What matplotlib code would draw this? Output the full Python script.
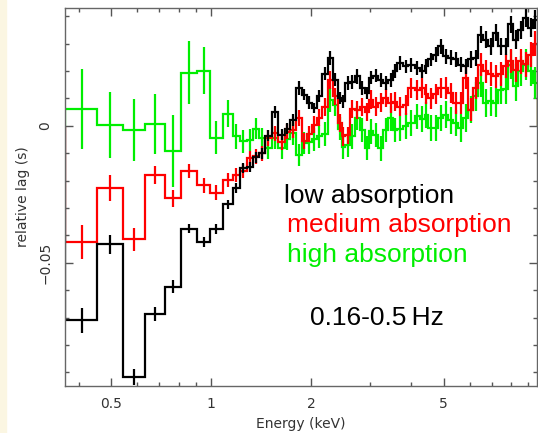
import numpy as np
import matplotlib.pyplot as plt
from matplotlib.patches import Rectangle

# bin edges in keV (shared by all three spectra)
edges = [0.364, 0.454, 0.543, 0.632, 0.728, 0.813, 0.908, 0.993, 1.083, 1.164,
         1.222, 1.280, 1.340, 1.394, 1.453, 1.522, 1.593, 1.668, 1.727, 1.796,
         1.873, 1.939, 2.006, 2.077, 2.154, 2.241, 2.329, 2.401, 2.469, 2.534,
         2.615, 2.706, 2.802, 2.900, 2.981, 3.071, 3.179, 3.291, 3.407, 3.527,
         3.626, 3.779, 3.912, 4.098, 4.242, 4.391, 4.493, 4.651, 4.815, 4.984,
         5.160, 5.341, 5.529, 5.724, 5.925, 6.134, 6.350, 6.573, 6.804, 7.044,
         7.292, 7.548, 7.814, 8.089, 8.374, 8.668, 8.973, 9.289, 9.600]

# lag (s) per bin
lag_low = [-0.0710, -0.0433, -0.0917, -0.0688, -0.0588, -0.0376, -0.0425, -0.0377, -0.0287, -0.0228,
           -0.0155, -0.0150, -0.0115, -0.0100, -0.0037, 0.0050, -0.0033, -0.0010, 0.0020, 0.0138,
           0.0113, 0.0085, 0.0065, 0.0110, 0.0190, 0.0248, 0.0168, 0.0101, 0.0089, 0.0156,
           0.0160, 0.0180, 0.0138, 0.0120, 0.0175, 0.0183, 0.0168, 0.0156, 0.0168, 0.0199,
           0.0230, 0.0217, 0.0223, 0.0211, 0.0199, 0.0217, 0.0242, 0.0260, 0.0290, 0.0254,
           0.0248, 0.0242, 0.0223, 0.0217, 0.0242, 0.0248, 0.0333, 0.0315, 0.0290, 0.0340,
           0.0290, 0.0290, 0.0370, 0.0315, 0.0351, 0.0394, 0.0358, 0.0388]
lag_med = [-0.0425, -0.0227, -0.0415, -0.0179, -0.0265, -0.0165, -0.0218, -0.0245, -0.0198, -0.0180,
           -0.0165, -0.0118, -0.0112, -0.0100, -0.0045, -0.0027, -0.0060, -0.0021, -0.0015, 0.0028,
           -0.0057, -0.0030, 0.0004, 0.0030, 0.0068, 0.0168, 0.0107, 0.0010, -0.0039, -0.0035,
           0.0061, 0.0058, 0.0070, 0.0050, 0.0095, 0.0070, 0.0085, 0.0101, 0.0083, 0.0088,
           0.0070, 0.0075, 0.0138, 0.0130, 0.0138, 0.0115, 0.0101, 0.0115, 0.0138, 0.0138,
           0.0120, 0.0083, 0.0083, 0.0175, 0.0059, 0.0138, 0.0223, 0.0199, 0.0190, 0.0180,
           0.0190, 0.0217, 0.0235, 0.0205, 0.0235, 0.0225, 0.0260, 0.0300]
lag_high = [0.0061, 0.0003, -0.0016, 0.0006, -0.0092, 0.0193, 0.0201, -0.0044, 0.0044, -0.0039,
            -0.0057, -0.0051, -0.0010, -0.0045, -0.0082, -0.0045, -0.0082, -0.0050, -0.0027, -0.0106,
            -0.0063, -0.0060, -0.0050, -0.0039, -0.0030, 0.0095, 0.0077, -0.0010, -0.0076, -0.0070,
            -0.0039, 0.0028, -0.0015, -0.0082, -0.0020, -0.0033, -0.0082, -0.0015, 0.0028, -0.0015,
            -0.0010, 0.0000, 0.0010, 0.0034, 0.0025, 0.0040, -0.0008, -0.0008, 0.0028, 0.0040,
            0.0020, 0.0010, -0.0008, 0.0028, 0.0059, 0.0107, 0.0156, 0.0083, 0.0090, 0.0085,
            0.0132, 0.0135, 0.0223, 0.0144, 0.0199, 0.0223, 0.0200, 0.0156]

# 1-sigma errors
err_low = [0.0045, 0.0034, 0.0030, 0.0026, 0.0024, 0.0016, 0.0018, 0.0018, 0.0016, 0.0018,
           0.0018, 0.0018, 0.0020, 0.0020, 0.0020, 0.0022, 0.0020, 0.0020, 0.0022, 0.0024,
           0.0020, 0.0022, 0.0020, 0.0022, 0.0024, 0.0025, 0.0024, 0.0022, 0.0024, 0.0024,
           0.0024, 0.0026, 0.0024, 0.0022, 0.0024, 0.0024, 0.0025, 0.0024, 0.0025, 0.0026,
           0.0025, 0.0024, 0.0026, 0.0025, 0.0026, 0.0027, 0.0025, 0.0027, 0.0028, 0.0027,
           0.0027, 0.0028, 0.0028, 0.0028, 0.0030, 0.0028, 0.0030, 0.0030, 0.0031, 0.0031,
           0.0030, 0.0032, 0.0032, 0.0033, 0.0033, 0.0034, 0.0034, 0.0035]
err_med = [0.0063, 0.0049, 0.0041, 0.0032, 0.0030, 0.0026, 0.0027, 0.0027, 0.0025, 0.0025,
           0.0026, 0.0026, 0.0027, 0.0027, 0.0028, 0.0028, 0.0029, 0.0028, 0.0030, 0.0030,
           0.0029, 0.0030, 0.0031, 0.0030, 0.0032, 0.0033, 0.0031, 0.0032, 0.0033, 0.0032,
           0.0033, 0.0034, 0.0033, 0.0032, 0.0034, 0.0034, 0.0035, 0.0033, 0.0035, 0.0034,
           0.0035, 0.0036, 0.0035, 0.0036, 0.0037, 0.0036, 0.0038, 0.0037, 0.0038, 0.0039,
           0.0038, 0.0040, 0.0039, 0.0040, 0.0041, 0.0040, 0.0042, 0.0041, 0.0043, 0.0042,
           0.0043, 0.0044, 0.0044, 0.0045, 0.0045, 0.0046, 0.0046, 0.0047]
err_high = [0.0146, 0.0120, 0.0114, 0.0110, 0.0130, 0.0115, 0.0085, 0.0060, 0.0049, 0.0045,
            0.0042, 0.0040, 0.0040, 0.0038, 0.0040, 0.0039, 0.0041, 0.0040, 0.0042, 0.0041,
            0.0040, 0.0042, 0.0041, 0.0043, 0.0042, 0.0044, 0.0043, 0.0042, 0.0044, 0.0043,
            0.0044, 0.0045, 0.0043, 0.0044, 0.0045, 0.0044, 0.0046, 0.0045, 0.0046, 0.0045,
            0.0046, 0.0047, 0.0046, 0.0047, 0.0048, 0.0047, 0.0048, 0.0049, 0.0048, 0.0049,
            0.0050, 0.0049, 0.0050, 0.0051, 0.0050, 0.0052, 0.0051, 0.0052, 0.0053, 0.0052,
            0.0053, 0.0054, 0.0054, 0.0055, 0.0055, 0.0056, 0.0056, 0.0057]

labels = ['low absorption', 'medium absorption', 'high absorption']
colors = ['black', '#ff0000', '#00ee00']

fig = plt.figure(figsize=(5.38, 4.33), dpi=100)
fig.patches.append(Rectangle((0, 0), 6 / 538, 1, transform=fig.transFigure,
                             color='#fbf6e2', zorder=0))
ax = fig.add_axes([65 / 538, 47 / 433, 472 / 538, 378 / 433])

e = np.array(edges)
mid = 0.5 * (e[:-1] + e[1:])
series = [(lag_high, err_high, colors[2]), (lag_med, err_med, colors[1]), (lag_low, err_low, colors[0])]
for vals, errs, c in series:
    ax.stairs(vals, e, color=c, linewidth=1.6)
    ax.errorbar(mid, vals, yerr=errs, fmt='none', ecolor=c, elinewidth=1.6, capsize=0)

ax.set_xscale('log')
ax.set_xlim(0.364, 9.55)
ax.set_ylim(-0.095, 0.043)

ax.set_xticks([0.5, 1, 2, 5])
ax.set_xticklabels(['0.5', '1', '2', '5'])
ax.set_xticks([0.4, 0.6, 0.7, 0.8, 0.9, 3, 4, 6, 7, 8, 9], minor=True)
ax.xaxis.set_minor_formatter(plt.NullFormatter())
ax.set_yticks([-0.05, 0])
ax.set_yticklabels(['\u22120.05', '0'], rotation=90, va='center')
ax.set_yticks(np.arange(-0.09, 0.045, 0.01), minor=True)

ax.tick_params(which='both', direction='in', top=True, right=True, colors='#555555',
               labelcolor='#333333', labelsize=10)
ax.tick_params(which='major', length=6, width=1)
ax.tick_params(which='minor', length=3, width=1)
ax.tick_params(axis='x', pad=8)
ax.tick_params(axis='y', pad=9)
for s in ax.spines.values():
    s.set_color('#666666')
    s.set_linewidth(1)

ax.set_xlabel('Energy (keV)', fontsize=10, color='#333333', labelpad=4)
ax.set_ylabel('relative lag (s)', fontsize=10, color='#333333', labelpad=6)

tx = dict(transform=ax.transAxes, fontsize=19, family='Liberation Sans', va='center', ha='left')
ax.text(0.465, 0.502, labels[0], color=colors[0], **tx)
ax.text(0.471, 0.425, labels[1], color=colors[1], **tx)
ax.text(0.471, 0.347, labels[2], color=colors[2], **tx)
ax.text(0.519, 0.180, '0.16-0.5\u2009Hz', color='black', **tx)

fig.savefig('out.png', dpi=100)
